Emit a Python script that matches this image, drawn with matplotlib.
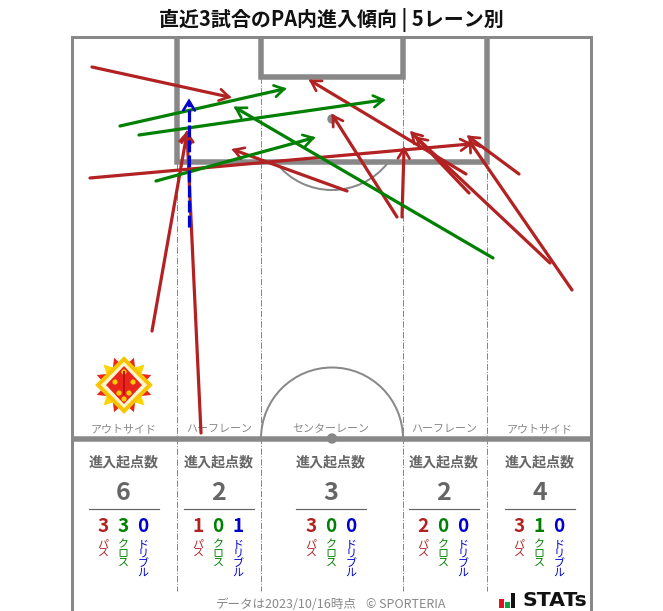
import numpy as np
import matplotlib
matplotlib.use('Agg')
import matplotlib.pyplot as plt
from matplotlib.patches import Arc, Circle, Polygon, Rectangle

plt.rcParams['font.family'] = ['Noto Sans CJK JP', 'DejaVu Sans']

W, H = 663, 611
TITLE = '直近3試合のPA内進入傾向 | 5レーン別'
LANES = ['アウトサイド', 'ハーフレーン', 'センターレーン', 'ハーフレーン', 'アウトサイド']
LANE_CENTERS = [124, 219, 331, 444, 540]
TOTALS = [6, 2, 3, 2, 4]
PASSES = [3, 1, 3, 2, 3]
CROSSES = [3, 0, 0, 0, 1]
DRIBBLES = [0, 1, 0, 0, 0]
PASS_ARROWS = [
    ((92, 67), (229, 97)), ((90, 178), (470, 144)), ((152, 331), (187, 133)),
    ((201, 433), (187, 133)), ((347, 191), (234, 150)), ((397, 217), (333, 116)),
    ((402, 217), (404, 149)), ((466, 174), (311, 81)), ((469, 193), (412, 133)),
    ((550, 263), (417, 138)), ((572, 290), (470, 142)), ((519, 174), (469, 137)),
]
CROSS_ARROWS = [
    ((120, 126), (284, 89)), ((139, 135), (383, 100)),
    ((156, 181), (313, 138)), ((493, 258), (236, 108)),
]
DRIBBLE_ARROWS = [((189, 227), (189, 101))]

RED, GREEN, BLUE, GRAY = '#b22222', '#008000', '#0000cd', '#888888'
TXT = '#666666'

fig = plt.figure(figsize=(W / 100, H / 100), dpi=100)
ax = fig.add_axes([0, 0, 1, 1])
ax.set_xlim(0, W)
ax.set_ylim(H, 0)
ax.axis('off')
px = 0.72


def pitch_line(xs, ys, width, z=2):
    ax.plot(xs, ys, color=GRAY, lw=width * px, solid_joinstyle='miter', solid_capstyle='butt', zorder=z)


# pitch
pitch_line([72, 72, 591, 591], [H + 5, 37, 37, H + 5], 3)
pitch_line([72, 591], [438.5, 438.5], 5.5)
pitch_line([177, 177, 487, 487], [37, 162, 162, 37], 5.5)
pitch_line([261, 261, 403, 403], [37, 77, 77, 37], 5.5)
for x, top in [(177, 162), (261, 77), (403, 77), (487, 162)]:
    ax.plot([x, x], [top, 591], color=GRAY, lw=1 * px, ls='-.', zorder=1)
ax.add_patch(Circle((332, 119), 4, color=GRAY, zorder=2))
ax.add_patch(Circle((332, 438.5), 4.5, color=GRAY, zorder=3))
ax.add_patch(Arc((332, 119), 142, 142, theta1=38, theta2=142, color=GRAY, lw=2 * px, zorder=2))
ax.add_patch(Arc((332, 438.5), 142, 142, theta1=180, theta2=360, color=GRAY, lw=2 * px, zorder=2))


def arrow(p, q, color, z, dashed=False):
    p, q = np.array(p, float), np.array(q, float)
    u = (q - p) / np.hypot(*(q - p))
    n = np.array([-u[1], u[0]])
    ls = (0, (3.7, 1.0)) if dashed else '-'
    ax.plot([p[0], q[0]], [p[1], q[1]], color=color, lw=3.2 * px, ls=ls,
            solid_capstyle='round', dash_capstyle='butt', zorder=z)
    a = q - 9.5 * u + 5.8 * n
    b = q - 9.5 * u - 5.8 * n
    ax.plot([a[0], q[0], b[0]], [a[1], q[1], b[1]], color=color, lw=2.7 * px,
            solid_joinstyle='miter', solid_capstyle='round', zorder=z)


for p, q in PASS_ARROWS:
    arrow(p, q, RED, 5)
for p, q in CROSS_ARROWS:
    arrow(p, q, GREEN, 6)
for p, q in DRIBBLE_ARROWS:
    arrow(p, q, BLUE, 7, dashed=True)

# title
ax.text(331, 19.5, TITLE, ha='center', va='center', fontsize=20 * px, fontweight='bold', color='#111111')

# lanes
for i, cx in enumerate(LANE_CENTERS):
    ax.text(cx, 429, LANES[i], ha='center', va='center', fontsize=11 * px, color='#888888', zorder=3)
    ax.text(cx, 462, '進入起点数', ha='center', va='center', fontsize=14 * px, fontweight='bold', color=TXT)
    ax.text(cx - 0.5, 493, str(TOTALS[i]), ha='center', va='center', fontsize=25 * px, fontweight='bold', color=TXT)
    ax.plot([cx - 35, cx + 35], [508.5, 508.5], color=TXT, lw=1.2 * px)
    for dx, v, col, lab in [(-20, PASSES[i], RED, 'パス'), (0, CROSSES[i], GREEN, 'クロス'), (20, DRIBBLES[i], BLUE, 'ドリブル')]:
        x = cx + dx - (0 if i == 2 else 1)
        ax.text(x, 526, str(v), ha='center', va='center', fontsize=19 * px, fontweight='bold', color=col)
        for k, ch in enumerate(lab):
            ax.text(x, 544.5 + 9.5 * k, ch, ha='center', va='center', fontsize=11 * px, color=col)

# footer
ax.text(286, 604.5, 'データは2023/10/16時点', ha='center', va='center', fontsize=12.5 * px, color='#888888')
ax.text(406, 604.5, '© SPORTERIA', ha='center', va='center', fontsize=12.5 * px, color='#888888')

# STATS logo
ax.add_patch(Rectangle((499, 599), 4.5, 8.5, color='#e01020', lw=0, zorder=4))
ax.add_patch(Rectangle((505, 602), 4.5, 5.5, color='#10a040', lw=0, zorder=4))
ax.add_patch(Rectangle((510.5, 593), 4.5, 14.5, color='#111111', lw=0, zorder=4))
ax.text(522, 600, 'STATs', ha='left', va='center', fontsize=20.5 * px, fontweight='bold', color='#111111',
        family='DejaVu Sans')

# crest
c = np.array([124.0, 385.0])
for deg in [20, 45, 70, 110, 135, 160, 200, 225, 250, 290, 315, 340]:
    a = np.deg2rad(deg)
    v = np.array([np.cos(a), np.sin(a)])
    n = np.array([-v[1], v[0]])
    col = '#ffd400' if deg % 45 == 0 else '#e8261c'
    ax.add_patch(Polygon([c + 29 * v, c + 11 * v + 9 * n, c + 11 * v - 9 * n], fc=col, ec='none', zorder=3.2))
ax.add_patch(Polygon([c + (0, -26), c + (26, 0), c + (0, 26), c + (-26, 0)], fc='#fff6d0', ec='#f8c400', lw=4 * px,
                     joinstyle='miter', zorder=3.4))
ax.add_patch(Polygon([c + (0, -19), c + (18, 0), c + (0, 19), c + (-18, 0)], fc='#e8261c', ec='none', zorder=3.5))
for dx, dy in [(-9, -3), (9, -3), (-5, 8), (5, 8), (0, 14), (0, -13)]:
    ax.add_patch(Circle(c + (dx, dy), 2.6, fc='#ffc800', ec='none', zorder=3.6))
ax.add_patch(Rectangle(c + (-1, -14), 2, 24, fc='#c01010', ec='none', zorder=3.7))

fig.savefig('out.png', dpi=100, facecolor='white')
